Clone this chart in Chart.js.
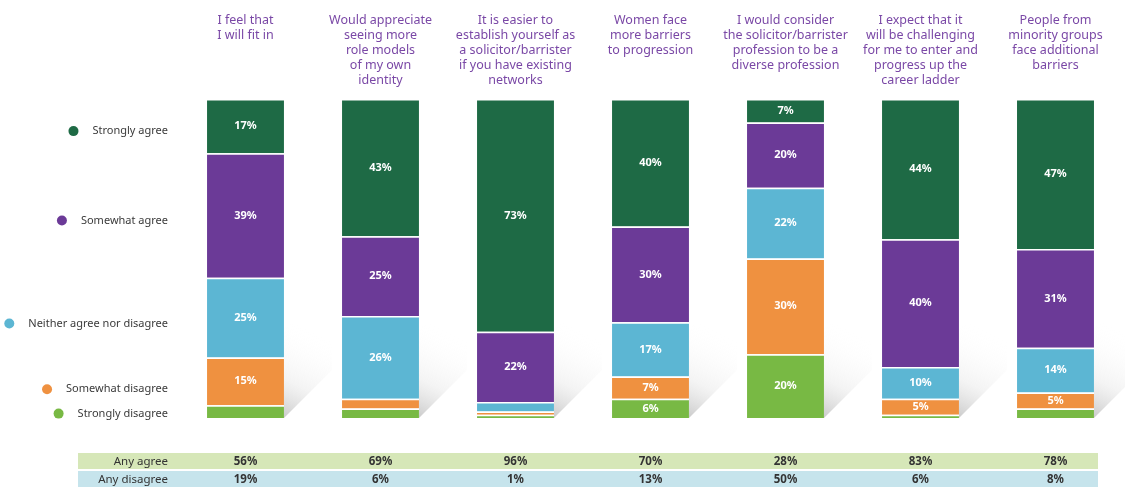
<!DOCTYPE html>
<html>
<head>
<meta charset="utf-8">
<script src="https://cdn.jsdelivr.net/npm/chart.js@4"></script>
<style>
  html, body { margin: 0; padding: 0; background: #fff; }
  #wrap { width: 1125px; height: 487px; position: relative; }
</style>
</head>
<body>
<div id="wrap"><canvas id="chart"></canvas></div>
<script>
// Survey statements (top labels)
const categories = [
    ['I feel that', 'I will fit in'],
    ['Would appreciate', 'seeing more', 'role models', 'of my own', 'identity'],
    ['It is easier to', 'establish yourself as', 'a solicitor/barrister', 'if you have existing', 'networks'],
    ['Women face', 'more barriers', 'to progression'],
    ['I would consider', 'the solicitor/barrister', 'profession to be a', 'diverse profession'],
    ['I expect that it', 'will be challenging', 'for me to enter and', 'progress up the', 'career ladder'],
    ['People from', 'minority groups', 'face additional', 'barriers']
];

// Response shares (%), per statement
const stronglyDisagree = [4, 3, 1, 6, 20, 1, 3];
const somewhatDisagree = [15, 3, 1, 7, 30, 5, 5];
const neitherAgree     = [25, 26, 3, 17, 22.2, 10, 14];
const somewhatAgree    = [39, 25, 22, 30, 20.4, 40, 31];
const stronglyAgree    = [17, 43, 73, 40, 7.4, 44, 47];

// Summary rows
const anyAgree    = ['56%', '69%', '96%', '70%', '28%', '83%', '78%'];
const anyDisagree = ['19%', '6%', '1%', '13%', '50%', '6%', '8%'];

const FONT = "'Noto Sans', sans-serif";
const PURPLE_TEXT = '#7a48a6';

// Order: bottom of stack first
const series = [
    { label: 'Strongly disagree', data: stronglyDisagree, color: '#78b944' },
    { label: 'Somewhat disagree', data: somewhatDisagree, color: '#ef9140' },
    { label: 'Neither agree nor disagree', data: neitherAgree, color: '#5cb6d3' },
    { label: 'Somewhat agree', data: somewhatAgree, color: '#6b3a97' },
    { label: 'Strongly agree', data: stronglyAgree, color: '#1e6a45' }
];

// soft diagonal shadow behind each bar
const shadowPlugin = {
    id: 'barShadow',
    beforeDatasetsDraw(chart) {
        const ctx = chart.ctx;
        const meta = chart.getDatasetMeta(0);
        ctx.save();
        meta.data.forEach(bar => {
            const right = bar.x + bar.width / 2;
            const bottom = bar.base;
            const g = ctx.createLinearGradient(right, bottom, right + 40, bottom - 80);
            g.addColorStop(0, 'rgba(130,130,130,0.42)');
            g.addColorStop(0.4, 'rgba(200,200,200,0.2)');
            g.addColorStop(1, 'rgba(255,255,255,0)');
            ctx.fillStyle = g;
            ctx.beginPath();
            ctx.moveTo(right, bottom);
            ctx.lineTo(right + 48, bottom - 48);
            ctx.lineTo(right + 48, bottom - 120);
            ctx.lineTo(right, bottom - 90);
            ctx.closePath();
            ctx.fill();
        });
        ctx.restore();
    }
};

// percentage labels inside segments
const valueLabels = {
    id: 'valueLabels',
    afterDatasetsDraw(chart) {
        const ctx = chart.ctx;
        ctx.save();
        ctx.fillStyle = '#ffffff';
        ctx.font = `bold 11px ${FONT}`;
        ctx.textAlign = 'center';
        ctx.textBaseline = 'middle';
        chart.data.datasets.forEach((ds, i) => {
            chart.getDatasetMeta(i).data.forEach((bar, j) => {
                const v = ds.data[j];
                if (v < 5) return;
                ctx.fillText(Math.round(v) + '%', bar.x, (bar.y + bar.base) / 2);
            });
        });
        ctx.restore();
    }
};

// legend on the left, lined up with the first bar's segments
const legendNudge = [2, 8, 6, 5, 5];
const sideLegend = {
    id: 'sideLegend',
    afterDraw(chart) {
        const ctx = chart.ctx;
        const textRight = 168;
        ctx.save();
        ctx.font = `11px ${FONT}`;
        ctx.textAlign = 'right';
        ctx.textBaseline = 'middle';
        chart.data.datasets.forEach((ds, i) => {
            const bar = chart.getDatasetMeta(i).data[0];
            const y = (bar.y + bar.base) / 2 + legendNudge[i];
            const w = ctx.measureText(ds.label).width;
            ctx.fillStyle = '#3a3a3a';
            ctx.fillText(ds.label, textRight, y);
            ctx.fillStyle = ds.backgroundColor;
            ctx.beginPath();
            ctx.arc(textRight - w - 19, y, 5, 0, Math.PI * 2);
            ctx.fill();
        });
        ctx.restore();
    }
};

// Any agree / Any disagree table under the bars
const summaryTable = {
    id: 'summaryTable',
    afterDraw(chart) {
        const ctx = chart.ctx;
        const meta = chart.getDatasetMeta(0);
        const left = 78, right = 1098;
        const rows = [
            { name: 'Any agree', values: anyAgree, bg: '#d6e7b8', top: 453 },
            { name: 'Any disagree', values: anyDisagree, bg: '#c6e4ec', top: 471 }
        ];
        ctx.save();
        ctx.textBaseline = 'middle';
        rows.forEach(r => {
            ctx.fillStyle = r.bg;
            ctx.fillRect(left, r.top, right - left, 16);
            const cy = r.top + 8.5;
            ctx.fillStyle = '#333';
            ctx.font = `11.5px ${FONT}`;
            ctx.textAlign = 'right';
            ctx.fillText(r.name, 168, cy);
            ctx.font = `bold 11.5px ${FONT}`;
            ctx.textAlign = 'center';
            meta.data.forEach((bar, j) => ctx.fillText(r.values[j], bar.x, cy));
        });
        ctx.restore();
    }
};

new Chart(document.getElementById('chart'), {
    type: 'bar',
    data: {
        labels: categories,
        datasets: series.map(s => ({
            label: s.label,
            data: s.data,
            backgroundColor: s.color,
            borderColor: '#ffffff',
            borderWidth: { top: 1.5, bottom: 0, left: 0, right: 0 },
            borderSkipped: false,
            categoryPercentage: 1,
            barPercentage: 0.57
        }))
    },
    options: {
        responsive: true,
        maintainAspectRatio: false,
        animation: false,
        layout: { padding: { top: 2, left: 178, right: 2, bottom: 69 } },
        plugins: {
            legend: { display: false },
            tooltip: { enabled: false }
        },
        scales: {
            x: {
                position: 'top',
                stacked: true,
                grid: { display: false, drawTicks: false },
                border: { display: false },
                ticks: {
                    color: PURPLE_TEXT,
                    font: { family: FONT, size: 12.5, lineHeight: 1.2 },
                    crossAlign: 'far',
                    padding: 11,
                    maxRotation: 0,
                    autoSkip: false
                }
            },
            y: {
                stacked: true,
                min: 0,
                max: 100,
                display: false
            }
        }
    },
    plugins: [shadowPlugin, valueLabels, sideLegend, summaryTable]
});
</script>
</body>
</html>
